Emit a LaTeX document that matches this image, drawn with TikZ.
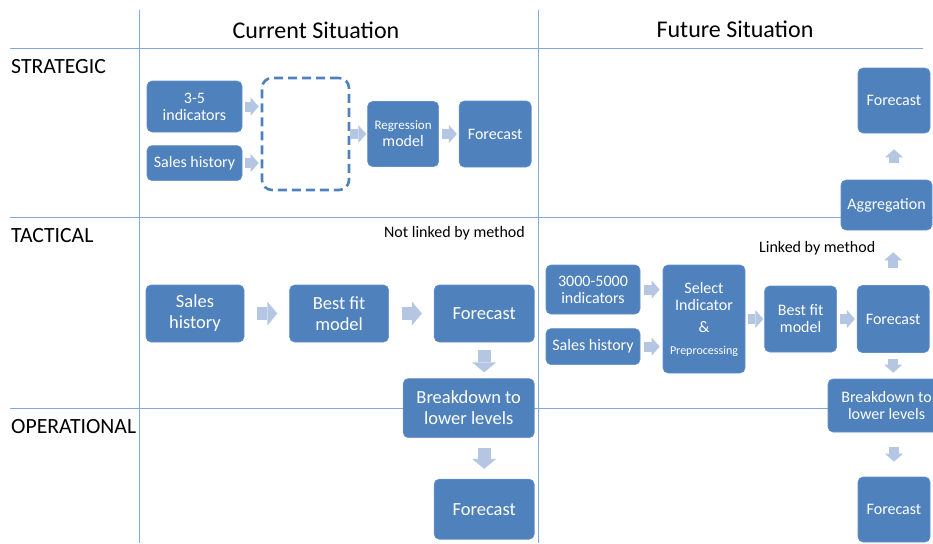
\documentclass[tikz,border=0pt]{standalone}
\usepackage{fontspec}
\setmainfont{Carlito}
\usetikzlibrary{positioning,arrows.meta}

\definecolor{boxblue}{HTML}{4F81BD}
\definecolor{boxedge}{HTML}{6390C8}
\definecolor{flowblue}{HTML}{B4C6E2}
\definecolor{gridblue}{HTML}{85A7D9}

\tikzset{
  box/.style={rectangle, rounded corners=5pt, fill=boxblue, draw=boxedge, line width=0.6pt,
    text=white, align=center, inner sep=1pt, font=\fontsize{16}{17}\selectfont},
  bigbox/.style={box, font=\fontsize{18.5}{21}\selectfont},
  flow/.style={draw=flowblue, line width=10pt, -{Triangle[length=8pt,width=18pt,line width=0pt]}},
  bigflow/.style={draw=flowblue, line width=13pt, -{Triangle[length=10pt,width=24pt,line width=0pt]}},
  gridline/.style={draw=gridblue, line width=0.8pt},
  level/.style={anchor=west, inner sep=0pt, font=\fontsize{21.7}{24}\selectfont},
  head/.style={inner sep=0pt, font=\fontsize{24}{26}\selectfont},
  note/.style={inner sep=0pt, font=\fontsize{16}{18}\selectfont},
}

\begin{document}
\begin{tikzpicture}[x=1pt,y=-1pt]
  \useasboundingbox (0,0) rectangle (933,543);
  \clip (0,0) rectangle (933,543);

  % table lines
  \draw[gridline] (139,10) -- (139,543);
  \draw[gridline] (538,10) -- (538,543);
  \draw[gridline] (10,48) -- (923,48);
  \draw[gridline] (10,217) -- (933,217);
  \draw[gridline] (10,408) -- (933,408);

  \node[head] (cur) at (316,30) {Current Situation};
  \node[head] (fut) at (735,29) {Future Situation};
  \node[level] (strat) at (11,67) {STRATEGIC};
  \node[level] (tact) at (11,236) {TACTICAL};
  \node[level] (oper) at (11,427) {OPERATIONAL};

  % current, strategic
  \node[box, minimum width=95pt, minimum height=51pt] (ind) at (194.5,106.5) {3-5\\indicators};
  \node[box, minimum width=95pt, minimum height=35pt, below=13pt of ind] (shs) {Sales history};
  \node[draw=boxblue, line width=2.6pt, dash pattern=on 9pt off 5pt, rounded corners=10pt,
    minimum width=87pt, minimum height=112pt] (pool) at (305.5,134) {};
  \node[box, minimum width=71pt, minimum height=65pt, right=17pt of pool] (reg)
    {{\fontsize{13}{15}\selectfont Regression}\\model};
  \node[box, minimum width=72pt, minimum height=66pt, right=20pt of reg] (fcs) {Forecast};

  \draw[flow, shorten <=3pt, shorten >=2pt] (ind.east) -- (ind.east -| pool.west);
  \draw[flow, shorten <=3pt, shorten >=2pt] (shs.east) -- (shs.east -| pool.west);
  \draw[flow, shorten <=0pt, shorten >=1pt] (pool.east) -- (reg.west);
  \draw[flow, shorten <=3pt, shorten >=2pt] (reg.east) -- (fcs.west);

  % future, strategic
  \node[box, minimum width=72pt, minimum height=65pt] (fcu) at (894,100.5) {Forecast};
  \node[box, minimum width=91pt, minimum height=50pt] (agg) at (886.5,205) {Aggregation};
  \draw[flow, shorten <=17pt, shorten >=16pt] (agg.north -| fcu.south) -- (fcu.south);

  % current, tactical and operational
  \node[note, anchor=east] (nolink) at (525,233) {Not linked by method};
  \node[bigbox, minimum width=98pt, minimum height=57pt] (sht) at (195,313.5) {Sales\\history};
  \node[bigbox, minimum width=99pt, minimum height=57pt, right=45pt of sht] (bft) {Best fit\\model};
  \node[bigbox, minimum width=100pt, minimum height=57pt, right=45pt of bft] (fct) {Forecast};
  \node[bigbox, minimum width=131pt, minimum height=59pt, below=36pt of fct.south east, anchor=north east]
    (bdt) {Breakdown to\\lower levels};
  \node[bigbox, minimum width=100pt, minimum height=60pt, below=41pt of bdt.south east, anchor=north east]
    (fco) {Forecast};

  \draw[bigflow, shorten <=13pt, shorten >=12pt] (sht.east) -- (bft.west);
  \draw[bigflow, shorten <=13pt, shorten >=12pt] (bft.east) -- (fct.west);
  \draw[bigflow, shorten <=8pt, shorten >=6pt] (fct.south) -- (fct.south |- bdt.north);
  \draw[bigflow, shorten <=10pt, shorten >=10pt] (fco.north |- bdt.south) -- (fco.north);

  % future, tactical and operational
  \node[note, anchor=west] (link) at (759,248) {Linked by method};
  \node[box, minimum width=94pt, minimum height=49pt] (indf) at (593,289.5) {3000-5000\\indicators};
  \node[box, minimum width=94pt, minimum height=36pt, below=14pt of indf] (shf) {Sales history};
  \node[box, minimum width=82pt, minimum height=108pt] (sel) at (704,319)
    {Select\\Indicator\\[5pt]\&\\[5pt]{\fontsize{12}{14}\selectfont Preprocessing}};
  \node[box, minimum width=72pt, minimum height=66pt, right=19pt of sel] (bff) {Best fit\\model};
  \node[box, minimum width=72pt, minimum height=67pt, right=20pt of bff] (fcn) {Forecast};
  \node[box, minimum width=117pt, minimum height=53pt] (bdf) at (886.5,405.5) {Breakdown to\\lower levels};
  \node[box, minimum width=72pt, minimum height=65pt] (fcl) at (894,509.5) {Forecast};

  \draw[flow, shorten <=4pt, shorten >=3pt] (indf.east) -- (indf.east -| sel.west);
  \draw[flow, shorten <=4pt, shorten >=3pt] (shf.east) -- (shf.east -| sel.west);
  \draw[flow, shorten <=3pt, shorten >=1pt] (sel.east |- bff.west) -- (bff.west);
  \draw[flow, shorten <=3pt, shorten >=2pt] (bff.east) -- (fcn.west);
  \draw[flow, shorten <=17pt, shorten >=22pt] (fcn.north) -- (fcn.north |- agg.south);
  \draw[flow, shorten <=6pt, shorten >=6pt] (fcn.south) -- (fcn.south |- bdf.north);
  \draw[flow, shorten <=15pt, shorten >=15pt] (fcl.north |- bdf.south) -- (fcl.north);
\end{tikzpicture}
\end{document}
